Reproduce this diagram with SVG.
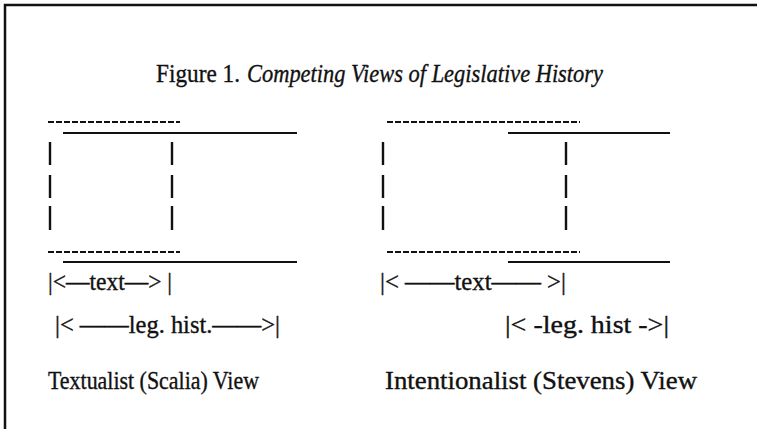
<svg xmlns="http://www.w3.org/2000/svg" width="757" height="429" viewBox="0 0 757 429">
<style>
text{font-family:"Liberation Serif","Times New Roman",serif;fill:#111;stroke:#111;stroke-width:0.35}
.t{font-size:25px}
.title{font-size:26px}
.dash{stroke:#111;stroke-width:2.2;stroke-dasharray:6 2;fill:none}
.solid{stroke:#111;stroke-width:2.2;fill:none}
.bar{stroke:#111;stroke-width:2.4;fill:none}
.frame{stroke:#111;stroke-width:2.5;fill:none}
</style>
<rect width="757" height="429" fill="#fff"/>
<path class="frame" d="M5,429 V5 H757"/>
<g id="title">
<text class="title" x="156" y="82" textLength="84" lengthAdjust="spacingAndGlyphs">Figure 1.</text>
<text class="title" x="247" y="82" font-style="italic" textLength="356" lengthAdjust="spacingAndGlyphs">Competing Views of Legislative History</text>
</g>
<g id="textualist">
<g id="textualist-lines">
<line class="dash" x1="48" y1="122" x2="180" y2="122"/>
<line class="solid" x1="63" y1="133" x2="297" y2="133"/>
<line class="dash" x1="48" y1="252" x2="180" y2="252"/>
<line class="solid" x1="63" y1="262" x2="297" y2="262"/>
<path class="bar" d="M50,142V165M50,175V198M50,206V230M172,142V165M172,175V198M172,206V230"/>
</g>
<text class="t" x="48" y="290" textLength="124" lengthAdjust="spacingAndGlyphs">|&lt;—text—&gt; |</text>
<text class="t" x="55" y="333" textLength="225" lengthAdjust="spacingAndGlyphs">|&lt; ——leg. hist.——&gt;|</text>
<text class="t" x="48" y="389" textLength="211" lengthAdjust="spacingAndGlyphs">Textualist (Scalia) View</text>
</g>
<g id="intentionalist">
<g id="intentionalist-lines">
<line class="dash" x1="387" y1="122" x2="580" y2="122"/>
<line class="solid" x1="508" y1="133" x2="670" y2="133"/>
<line class="dash" x1="387" y1="252" x2="580" y2="252"/>
<line class="solid" x1="508" y1="262" x2="670" y2="262"/>
<path class="bar" d="M383,142V165M383,175V198M383,206V230M566,142V165M566,175V198M566,206V230"/>
</g>
<text class="t" x="380" y="290" textLength="186" lengthAdjust="spacingAndGlyphs">|&lt; ——text—— &gt;|</text>
<text class="t" x="505" y="333" textLength="164" lengthAdjust="spacingAndGlyphs">|&lt; -leg. hist -&gt;|</text>
<text class="t" x="385" y="389" textLength="312" lengthAdjust="spacingAndGlyphs">Intentionalist (Stevens) View</text>
</g>
</svg>
